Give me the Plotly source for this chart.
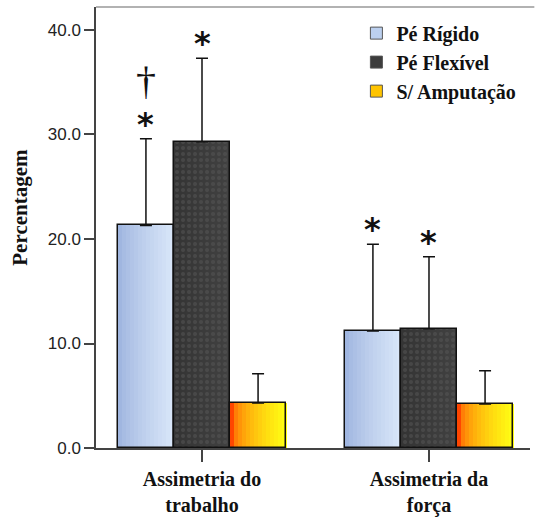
import plotly.graph_objects as go

categories = ["Assimetria do<br>trabalho", "Assimetria da<br>força"]
series = ["Pé Rígido", "Pé Flexível", "S/ Amputação"]
means = {
    "Pé Rígido": [21.3, 11.2],
    "Pé Flexível": [29.3, 11.4],
    "S/ Amputação": [4.3, 4.2],
}
sd_upper = {
    "Pé Rígido": [8.3, 8.3],
    "Pé Flexível": [8.0, 6.9],
    "S/ Amputação": [2.8, 3.2],
}
stars = {
    "Pé Rígido": ["*", "*"],
    "Pé Flexível": ["*", "*"],
    "S/ Amputação": ["", ""],
}
daggers = {
    "Pé Rígido": ["†", ""],
    "Pé Flexível": ["", ""],
    "S/ Amputação": ["", ""],
}
y_ticks = [0, 10, 20, 30, 40]
y_title = "Percentagem"

# style
grad = {
    "Pé Rígido": [(160, 182, 224), (216, 230, 249)],
    "Pé Flexível": [(52, 52, 52), (66, 66, 66)],
    "S/ Amputação": [(255, 70, 0), (255, 252, 20)],
}
grad_pow = {"Pé Rígido": 0.8, "Pé Flexível": 1.0, "S/ Amputação": 0.45}
legend_col = {"Pé Rígido": "#bcd0ef", "Pé Flexível": "#3c3c3c", "S/ Amputação": "#ffc400"}
bw = 0.247
nstrip = 14
xs = list(range(len(categories)))
SERIF = "Liberation Serif"

fig = go.Figure()
for si, s in enumerate(series):
    base_off = -1.5 * bw + si * bw
    c0, c1 = grad[s]
    for k in range(nstrip):
        t = (k / (nstrip - 1)) ** grad_pow[s]
        col = "rgb(%d,%d,%d)" % tuple(int(c0[j] + (c1[j] - c0[j]) * t) for j in range(3))
        mk = dict(color=col, line=dict(width=0))
        if s == "Pé Flexível":
            mk["pattern"] = dict(shape=".", fgcolor="#585858", bgcolor=col, size=6, solidity=0.35)
        fig.add_trace(go.Bar(x=xs, y=means[s], width=bw / nstrip + 0.002,
                             offset=base_off + k * bw / nstrip, marker=mk,
                             showlegend=False, hoverinfo="skip"))
    # outline + error bars
    fig.add_trace(go.Bar(x=xs, y=means[s], width=bw, offset=base_off,
                         marker=dict(color="rgba(0,0,0,0)", line=dict(color="#111", width=1.5)),
                         error_y=dict(type="data", array=sd_upper[s], arrayminus=[0] * len(xs),
                                      symmetric=False, color="#111", thickness=1.5, width=6),
                         showlegend=False))
    # legend entry
    fig.add_trace(go.Bar(x=[None], y=[None], name="<b>%s</b>" % s,
                         marker=dict(color=legend_col[s], line=dict(color="#555", width=1))))
    for i in xs:
        top = means[s][i] + sd_upper[s][i]
        xc = i + base_off + bw / 2
        if stars[s][i]:
            fig.add_annotation(x=xc, y=top, text="<b>*</b>", showarrow=False,
                               yanchor="bottom", yshift=-6,
                               font=dict(family="DejaVu Sans", size=32, color="#111"))
        if daggers[s][i]:
            fig.add_annotation(x=xc, y=top, text="†", showarrow=False,
                               yanchor="bottom", yshift=34,
                               font=dict(family=SERIF, size=40, color="#111"))

fig.add_annotation(xref="paper", yref="paper", x=-0.175, y=0.545, text="<b>%s</b>" % y_title,
                   textangle=-90, showarrow=False, xanchor="center", yanchor="middle",
                   font=dict(family=SERIF, size=21, color="#111"))

fig.update_layout(
    width=535, height=518,
    font=dict(family=SERIF, size=20, color="#111"),
    margin=dict(l=96, r=5, t=7, b=70, autoexpand=False),
    plot_bgcolor="white", paper_bgcolor="white",
    barmode="overlay", bargap=0,
    showlegend=True,
    legend=dict(x=0.6, y=0.985, xanchor="left", yanchor="top",
                font=dict(family=SERIF, size=20, color="#111"),
                bgcolor="rgba(255,255,255,0)", tracegroupgap=0),
    xaxis=dict(range=[-0.467, 1.445], tickvals=xs,
               ticktext=["<b>%s</b>" % c for c in categories],
               showline=True, linecolor="#444", linewidth=1.5, mirror=False,
               ticks="outside", ticklen=12, tickcolor="#444", tickwidth=1.5,
               tickfont=dict(family=SERIF, size=20, color="#111"),
               showgrid=False, zeroline=False, automargin=False),
    yaxis=dict(range=[0, 42.2], tickvals=y_ticks, ticktext=["%.1f" % v for v in y_ticks],
               showline=True, linecolor="#444", linewidth=1.5,
               ticks="outside", ticklen=10, tickcolor="#444", tickwidth=1.5,
               tickfont=dict(family="Liberation Sans", size=17, color="#222"),
               showgrid=False, zeroline=False, automargin=False),
)
fig.add_shape(type="line", xref="paper", yref="paper", x0=0, x1=1.01, y0=1, y1=1,
              line=dict(color="#999", width=1.5))
fig.write_html("out.html", config={"displayModeBar": False},
               post_script="document.body.style.margin='0';document.body.style.overflow='hidden';")
